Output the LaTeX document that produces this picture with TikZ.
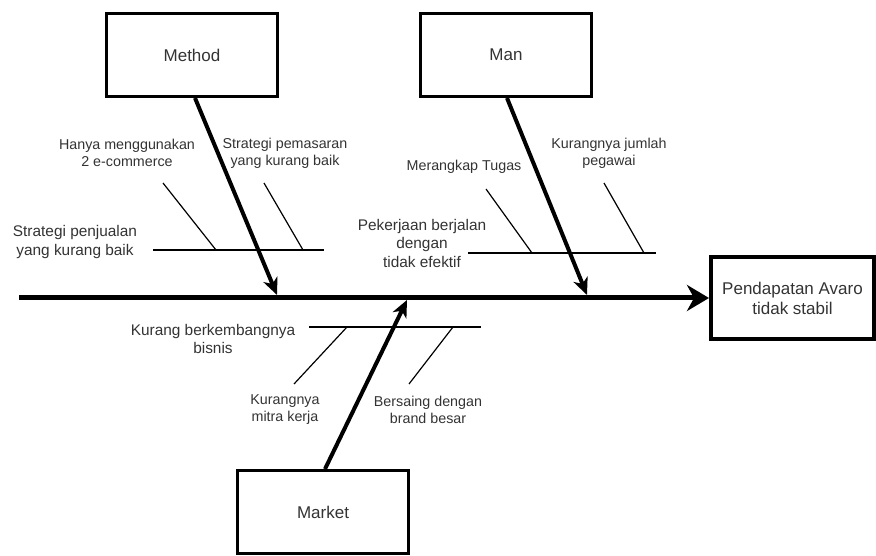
\documentclass[tikz,border=0pt]{standalone}
\usepackage{fontspec}
\setmainfont{Liberation Sans}
\usetikzlibrary{arrows.meta}
\definecolor{txt}{HTML}{333333}

\begin{document}
\begin{tikzpicture}[x=1pt,y=-1pt,
    catbox/.style={draw,line width=3pt,minimum width=171pt,minimum height=83pt,
      inner sep=0pt,text=txt,font=\fontsize{17}{20}\selectfont},
    effbox/.style={draw,line width=4pt,minimum width=163pt,minimum height=82pt,
      inner sep=0pt,text=txt,align=center,font=\fontsize{17}{20}\selectfont},
    bone/.style={line width=4pt,-{Stealth[length=17pt,width=15pt,inset=5pt]}},
    spine/.style={line width=5pt,-{Stealth[length=22pt,width=26pt,inset=7pt]}},
    branch/.style={line width=2.5pt},
    twig/.style={line width=1.2pt},
    cause/.style={text=txt,align=center,inner sep=0pt,font=\fontsize{15.4}{18.5}\selectfont},
    sub/.style={text=txt,align=center,inner sep=0pt,font=\fontsize{14.3}{17}\selectfont}]
    \useasboundingbox (0,0) rectangle (876,556);

    % boxes
    \node[catbox] (method) at (192,55) {Method};
    \node[catbox] (man) at (506,55) {Man};
    \node[catbox] (market) at (323,512) {Market};
    \node[effbox] (effect) at (792.5,298) {Pendapatan Avaro\\tidak stabil};

    % spine
    \coordinate (tail) at (19,298);
    \draw[spine] (tail) -- (effect.west);

    % Method
    \coordinate (mtip) at (277,295);
    \draw[bone] ([xshift=3pt]method.south) -- (mtip);
    \coordinate (ma) at (153,250);
    \coordinate (mb) at (324,250);
    \draw[branch] (ma) -- (mb);
    \coordinate (ma1) at (163,183);
    \coordinate (ma2) at (216,250);
    \coordinate (mb1) at (264,183);
    \coordinate (mb2) at (303,250);
    \draw[twig] (ma1) -- (ma2);
    \draw[twig] (mb1) -- (mb2);
    \node[cause] (mlabel) at (75,242) {Strategi penjualan\\yang kurang baik};
    \node[sub] (m1) at (127,153) {Hanya menggunakan\\2 e-commerce};
    \node[sub] (m2) at (285,153) {Strategi pemasaran\\yang kurang baik};

    % Man
    \coordinate (ntip) at (587,295);
    \draw[bone] ([xshift=1pt]man.south) -- (ntip);
    \coordinate (na) at (468,253);
    \coordinate (nb) at (656,253);
    \draw[branch] (na) -- (nb);
    \coordinate (na1) at (486,189);
    \coordinate (na2) at (532,253);
    \coordinate (nb1) at (604,183);
    \coordinate (nb2) at (644,253);
    \draw[twig] (na1) -- (na2);
    \draw[twig] (nb1) -- (nb2);
    \node[cause] (nlabel) at (422,243) {Pekerjaan berjalan\\dengan\\tidak efektif};
    \node[sub] (n1) at (464,167) {Merangkap Tugas};
    \node[sub] (n2) at (609,153) {Kurangnya jumlah\\pegawai};

    % Market
    \coordinate (ktip) at (407,300);
    \draw[bone] ([xshift=2pt]market.north) -- (ktip);
    \coordinate (ka) at (309,327);
    \coordinate (kb) at (481,327);
    \draw[branch] (ka) -- (kb);
    \coordinate (ka1) at (347,327);
    \coordinate (ka2) at (294,384);
    \coordinate (kb1) at (453,327);
    \coordinate (kb2) at (409,384);
    \draw[twig] (ka1) -- (ka2);
    \draw[twig] (kb1) -- (kb2);
    \node[cause] (klabel) at (213,339) {Kurang berkembangnya\\bisnis};
    \node[sub] (k1) at (285,410) {Kurangnya\\mitra kerja};
    \node[sub] (k2) at (428,410) {Bersaing dengan\\brand besar};
\end{tikzpicture}
\end{document}
